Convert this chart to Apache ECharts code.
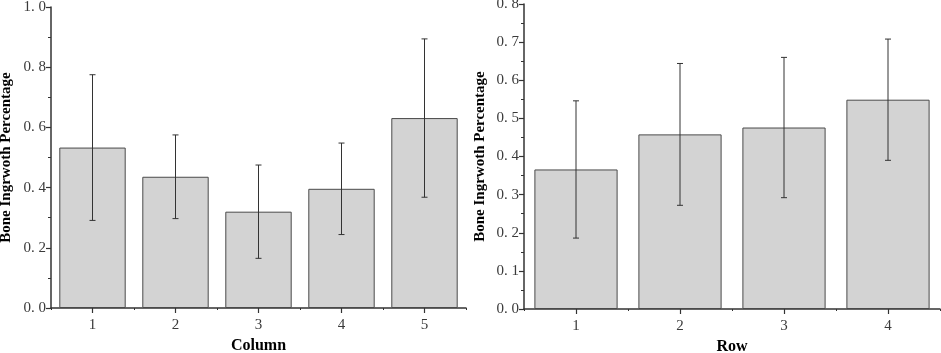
<!DOCTYPE html>
<html>
<head>
<meta charset="utf-8">
<script src="https://cdn.jsdelivr.net/npm/echarts@6/dist/echarts.min.js"></script>
<style>
html,body{margin:0;padding:0;background:#fff}
#chart{width:941px;height:353px}
</style>
</head>
<body>
<div id="chart"></div>
<script>
// left panel: by column
var colCats = ['1', '2', '3', '4', '5']
var colMeans = [0.533, 0.436, 0.320, 0.396, 0.631]
var colErr = [0.242, 0.139, 0.155, 0.152, 0.263]
// right panel: by row
var rowCats = ['1', '2', '3', '4']
var rowMeans = [0.366, 0.458, 0.476, 0.549]
var rowErr = [0.180, 0.186, 0.184, 0.159]

var axisColor = '#333'
var serif = 'Liberation Serif'

function errData(means, errs) {
  var out = []
  for (var i = 0; i < means.length; i++) {
    out.push([i, means[i] - errs[i], means[i] + errs[i]])
  }
  return out
}

function renderErr(params, api) {
  var x = api.value(0)
  var lo = api.coord([x, api.value(1)])
  var hi = api.coord([x, api.value(2)])
  var cap = 3
  var st = { stroke: '#333', lineWidth: 1 }
  return {
    type: 'group',
    children: [
      { type: 'line', shape: { x1: lo[0], y1: lo[1], x2: hi[0], y2: hi[1] }, style: st },
      { type: 'line', shape: { x1: lo[0] - cap, y1: lo[1], x2: lo[0] + cap, y2: lo[1] }, style: st },
      { type: 'line', shape: { x1: hi[0] - cap, y1: hi[1], x2: hi[0] + cap, y2: hi[1] }, style: st }
    ]
  }
}

function yAxisFor(gridIndex, max, interval, gap) {
  return {
    type: 'value', gridIndex: gridIndex, min: 0, max: max, interval: interval,
    name: 'Bone Ingrwoth Percentage', nameLocation: 'middle', nameGap: gap,
    nameTextStyle: { fontFamily: serif, fontWeight: 'bold', fontSize: 15, color: '#000' },
    axisLine: { show: true, lineStyle: { color: axisColor, width: 1.5 } },
    axisTick: { show: true, length: 5, lineStyle: { color: axisColor, width: 1.2 } },
    minorTick: { show: true, splitNumber: 2, length: 3, lineStyle: { color: axisColor, width: 1 } },
    splitLine: { show: false },
    axisLabel: {
      margin: 5, fontFamily: serif, fontSize: 15, color: '#3a3a3a',
      formatter: function (v) { return v.toFixed(1).replace('.', '. ') }
    }
  }
}

function xAxisFor(gridIndex, cats, name) {
  return {
    type: 'category', gridIndex: gridIndex, data: cats, position: 'bottom',
    name: name, nameLocation: 'middle', nameGap: 29,
    nameTextStyle: { fontFamily: serif, fontWeight: 'bold', fontSize: 16, color: '#000' },
    axisLine: { show: true, lineStyle: { color: axisColor, width: 1.5 } },
    axisTick: { show: true, alignWithLabel: true, length: 5, lineStyle: { color: axisColor, width: 1.2 } },
    axisLabel: { margin: 10, fontFamily: serif, fontSize: 15, color: '#3a3a3a' }
  }
}

// extra value axis only to draw the small ticks between categories
function boundaryAxis(gridIndex, n) {
  return {
    type: 'value', gridIndex: gridIndex, min: 0, max: n, interval: 1, position: 'bottom',
    axisLine: { show: false },
    axisTick: { show: true, length: 2, lineStyle: { color: axisColor, width: 1 } },
    axisLabel: { show: false },
    splitLine: { show: false }
  }
}

var barStyle = { color: '#d3d3d3', borderColor: '#4a4a4a', borderWidth: 1 }

var chart = echarts.init(document.getElementById('chart'))
chart.setOption({
  animation: false,
  grid: [
    { left: 51, right: 475, top: 7, bottom: 45, outerBoundsMode: 'none' },
    { left: 524, right: 1, top: 4, bottom: 44, outerBoundsMode: 'none' }
  ],
  xAxis: [
    xAxisFor(0, colCats, 'Column'),
    xAxisFor(1, rowCats, 'Row'),
    boundaryAxis(0, colCats.length),
    boundaryAxis(1, rowCats.length)
  ],
  yAxis: [
    yAxisFor(0, 1.0, 0.2, 37),
    yAxisFor(1, 0.8, 0.1, 36)
  ],
  series: [
    { type: 'bar', xAxisIndex: 0, yAxisIndex: 0, data: colMeans, barWidth: '80%', itemStyle: barStyle },
    { type: 'custom', xAxisIndex: 0, yAxisIndex: 0, data: errData(colMeans, colErr), renderItem: renderErr, z: 5 },
    { type: 'bar', xAxisIndex: 1, yAxisIndex: 1, data: rowMeans, barWidth: '80%', itemStyle: barStyle },
    { type: 'custom', xAxisIndex: 1, yAxisIndex: 1, data: errData(rowMeans, rowErr), renderItem: renderErr, z: 5 }
  ]
})
</script>
</body>
</html>
